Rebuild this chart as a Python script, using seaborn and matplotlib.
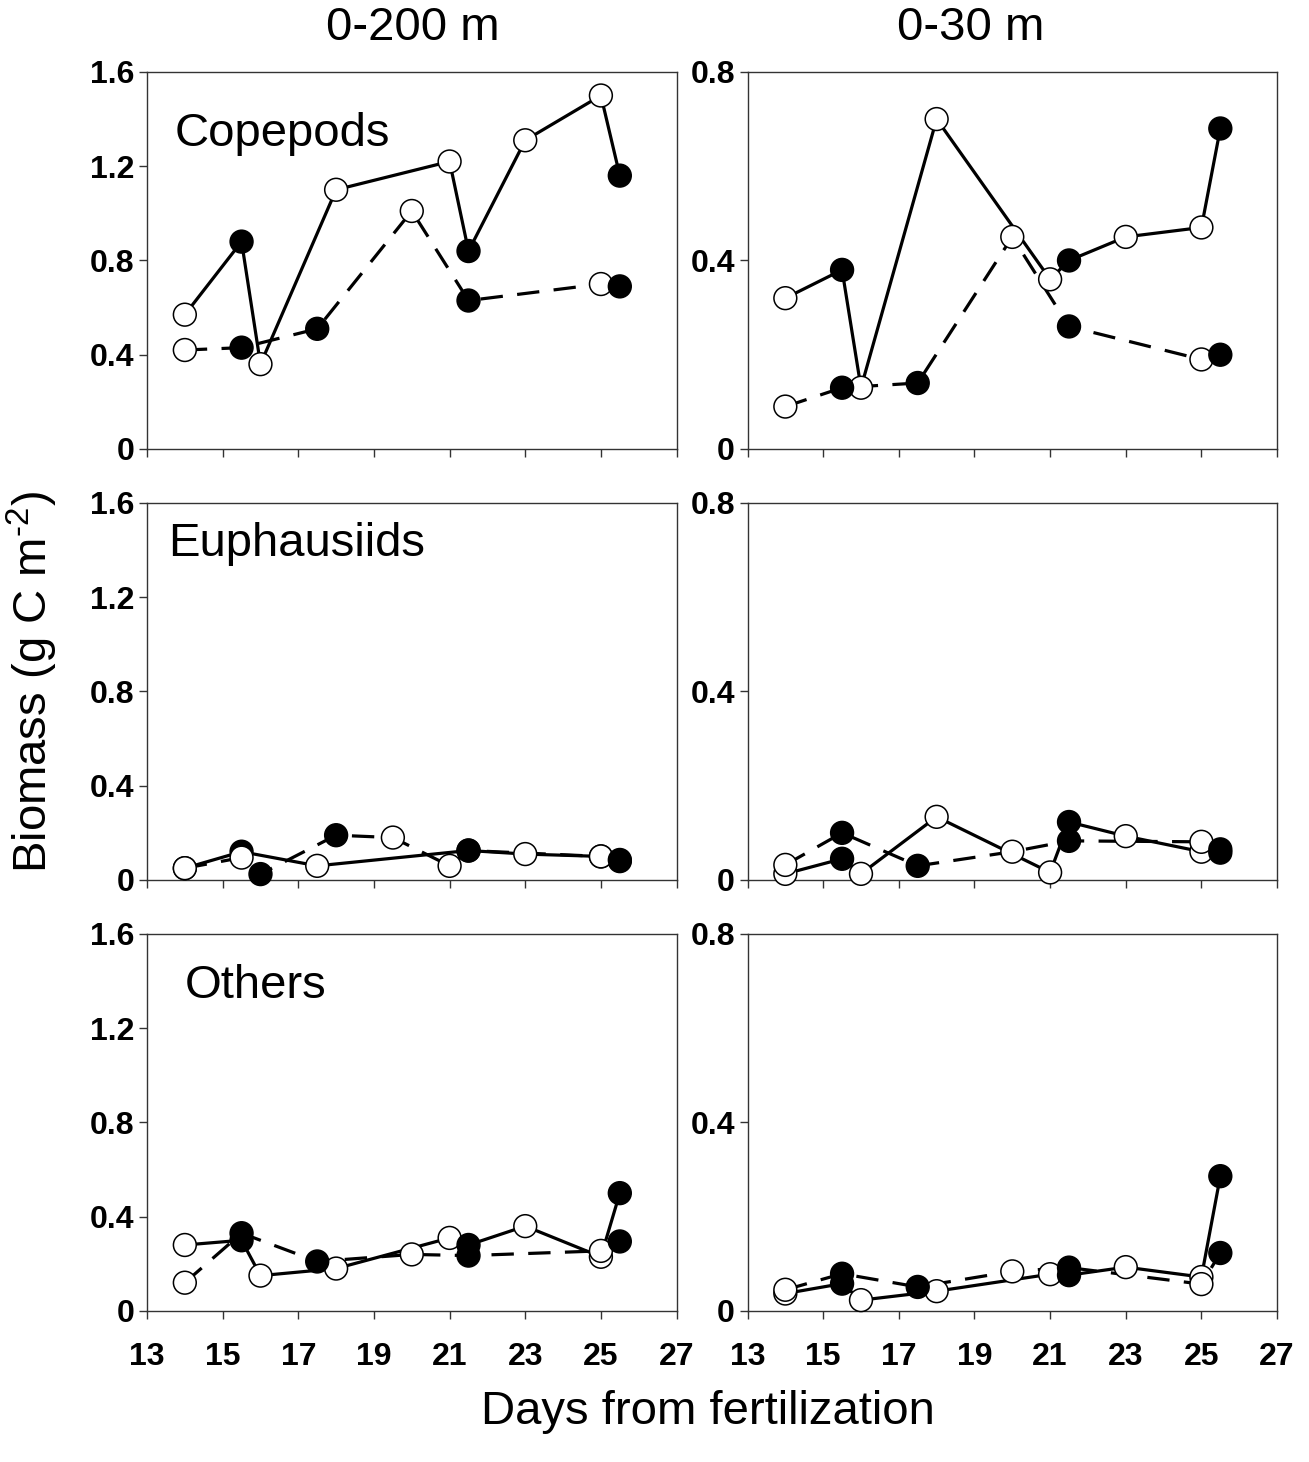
import pandas as pd
import seaborn as sns
import matplotlib.pyplot as plt

# days and fill state (1 = filled marker, 0 = open marker)
solid_day = [14, 15.5, 16, 18, 21, 21.5, 23, 25, 25.5]
solid_dark = [0, 1, 0, 0, 0, 1, 0, 0, 1]
dash_day = [14, 15.5, 17.5, 20, 21.5, 25, 25.5]
dash_dark = [0, 1, 1, 0, 1, 0, 1]

# Copepods
cop200_solid_val = [0.57, 0.88, 0.36, 1.10, 1.22, 0.84, 1.31, 1.50, 1.16]
cop200_dash_val = [0.42, 0.43, 0.51, 1.01, 0.63, 0.70, 0.69]
cop30_solid_val = [0.32, 0.38, 0.13, 0.70, 0.36, 0.40, 0.45, 0.47, 0.68]
cop30_dash_val = [0.09, 0.13, 0.14, 0.45, 0.26, 0.19, 0.20]

# Euphausiids (0-200 m panel has its own sampling days)
eup200_solid_day = [14, 15.5, 17.5, 21.5, 23, 25, 25.5]
eup200_solid_val = [0.05, 0.12, 0.06, 0.125, 0.11, 0.10, 0.08]
eup200_solid_dark = [0, 1, 0, 1, 0, 0, 1]
eup200_dash_day = [14, 15.5, 16, 18, 19.5, 21, 21.5, 25, 25.5]
eup200_dash_val = [0.05, 0.095, 0.025, 0.19, 0.18, 0.06, 0.125, 0.10, 0.085]
eup200_dash_dark = [0, 0, 1, 1, 0, 0, 1, 0, 1]
eup30_solid_val = [0.013, 0.045, 0.013, 0.134, 0.016, 0.123, 0.093, 0.06, 0.058]
eup30_dash_val = [0.032, 0.10, 0.03, 0.06, 0.083, 0.081, 0.065]

# Others
oth200_solid_val = [0.28, 0.30, 0.15, 0.18, 0.31, 0.28, 0.36, 0.23, 0.50]
oth200_dash_val = [0.12, 0.33, 0.21, 0.24, 0.235, 0.255, 0.295]
oth30_solid_val = [0.037, 0.058, 0.023, 0.042, 0.078, 0.076, 0.093, 0.072, 0.286]
oth30_dash_val = [0.045, 0.079, 0.051, 0.084, 0.092, 0.057, 0.123]

group_names = ['Copepods', 'Euphausiids', 'Others']
depth_names = ['0-200 m', '0-30 m']
x_ticks = [13, 15, 17, 19, 21, 23, 25, 27]

panels = [
    [((solid_day, cop200_solid_val, solid_dark), (dash_day, cop200_dash_val, dash_dark)),
     ((solid_day, cop30_solid_val, solid_dark), (dash_day, cop30_dash_val, dash_dark))],
    [((eup200_solid_day, eup200_solid_val, eup200_solid_dark), (eup200_dash_day, eup200_dash_val, eup200_dash_dark)),
     ((solid_day, eup30_solid_val, solid_dark), (dash_day, eup30_dash_val, dash_dark))],
    [((solid_day, oth200_solid_val, solid_dark), (dash_day, oth200_dash_val, dash_dark)),
     ((solid_day, oth30_solid_val, solid_dark), (dash_day, oth30_dash_val, dash_dark))],
]
label_pos = [(0.053, 0.835), (0.040, 0.89), (0.072, 0.862)]

sns.set_theme(style='white')
plt.rcParams['font.family'] = ['Liberation Sans', 'DejaVu Sans']
plt.rcParams['text.color'] = 'black'
plt.rcParams['xtick.color'] = 'black'
plt.rcParams['ytick.color'] = 'black'
plt.rcParams['mathtext.fontset'] = 'custom'
plt.rcParams['mathtext.rm'] = 'Liberation Sans'
plt.rcParams['mathtext.it'] = 'Liberation Sans:italic'
plt.rcParams['mathtext.bf'] = 'Liberation Sans:bold'

fig, axes = plt.subplots(3, 2, figsize=(13.09, 14.62), dpi=100)
fig.subplots_adjust(left=0.1123, right=0.9756, top=0.9508, bottom=0.1033,
                    wspace=0.134, hspace=0.143)

for r in range(3):
    for c in range(2):
        ax = axes[r, c]
        series = panels[r][c]
        for (day, val, dark), ls in zip(series, ['-', (0, (7, 4.5))]):
            df = pd.DataFrame({'day': day, 'val': val, 'dark': dark})
            sns.lineplot(data=df, x='day', y='val', sort=False, estimator=None,
                         color='black', lw=2.3, linestyle=ls, ax=ax, zorder=2)
        for day, val, dark in series:
            df = pd.DataFrame({'day': day, 'val': val, 'dark': dark})
            sns.scatterplot(data=df, x='day', y='val', hue='dark',
                            palette={0: 'white', 1: 'black'}, s=270,
                            edgecolor='black', linewidth=1.1, legend=False,
                            ax=ax, zorder=3, clip_on=False)

        ax.set_xlim(13, 27)
        ax.set_xticks(x_ticks)
        if c == 0:
            ax.set_ylim(0, 1.6)
            ax.set_yticks([0, 0.4, 0.8, 1.2, 1.6])
            ax.set_yticklabels(['0', '0.4', '0.8', '1.2', '1.6'])
        else:
            ax.set_ylim(0, 0.8)
            ax.set_yticks([0, 0.4, 0.8])
            ax.set_yticklabels(['0', '0.4', '0.8'])
        if r == 2:
            ax.set_xticklabels([str(t) for t in x_ticks])
        else:
            ax.set_xticklabels([])
        ax.set_xlabel('')
        ax.set_ylabel('')
        ax.tick_params(axis='both', direction='out', length=6, width=1,
                       color='#333333', labelsize=23, bottom=True, left=True)
        ax.tick_params(axis='x', pad=16)
        ax.tick_params(axis='y', pad=3)
        for lab in ax.get_xticklabels() + ax.get_yticklabels():
            lab.set_fontweight('bold')
        for sp in ax.spines.values():
            sp.set_color('#333333')
            sp.set_linewidth(1)
        if c == 0:
            ax.text(label_pos[r][0], label_pos[r][1], group_names[r],
                    transform=ax.transAxes, fontsize=34, va='center', ha='left')

fig.text(413 / 1309, 0.981, depth_names[0], fontsize=34, ha='center', va='center')
fig.text(971 / 1309, 0.981, depth_names[1], fontsize=34, ha='center', va='center')

fig.text(0.025, 1 - 682 / 1462, 'Biomass (g C m$^{\\mathregular{\u20102}}$)',
         fontsize=34, rotation=90, ha='center', va='center')
fig.text(708 / 1309, 1 - 1412 / 1462, 'Days from fertilization', fontsize=34,
         ha='center', va='center')

plt.savefig('out.png', dpi=100)
